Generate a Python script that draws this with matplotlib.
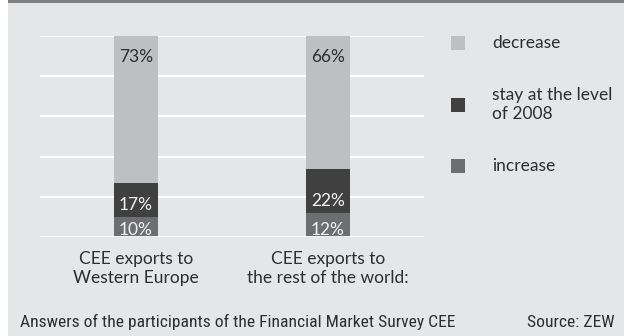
import matplotlib
matplotlib.use("Agg")
import matplotlib.pyplot as plt
from matplotlib.patches import Rectangle
from matplotlib import font_manager

# ---- data ----
categories = ["CEE exports to\nWestern Europe", "CEE exports to\nthe rest of the world:"]
increase = [10, 12]
stay = [17, 22]
decrease = [73, 66]
series_names = ["increase", "stay at the level\nof 2008", "decrease"]
footer_left = "Answers of the participants of the Financial Market Survey CEE"
footer_right = "Source: ZEW"

# ---- style ----
BG = "#e5e6e8"
C_INC = "#6d6e71"
C_STAY = "#404040"
C_DEC = "#bebfc3"
TXT = "#2e2e2e"
W, H = 624, 336

avail = {f.name for f in font_manager.fontManager.ttflist}
main_font = "Lato" if "Lato" in avail else "DejaVu Sans"
narrow = next((f for f in ["Liberation Sans Narrow", "Roboto Condensed", "Open Sans Condensed", "Roboto"] if f in avail), main_font)

fig = plt.figure(figsize=(W / 100, H / 100), dpi=100, facecolor=BG)

def fx(px):
    return px / W

def fy(py):
    return 1 - py / H

# top dark band and left white strip
fig.add_artist(Rectangle((fx(8), fy(3)), 1 - fx(8), 3 / H, transform=fig.transFigure,
                         facecolor="#808080", edgecolor="none"))
fig.add_artist(Rectangle((0, 0), fx(8), 1, transform=fig.transFigure,
                         facecolor="white", edgecolor="none"))

ax = fig.add_axes([fx(40), fy(237.3), fx(424) - fx(40), fy(35.8) - fy(237.3)])
ax.set_facecolor(BG)
ax.set_xlim(-0.5, 1.5)
ax.set_ylim(0, 100)
for s in ax.spines.values():
    s.set_visible(False)
ax.set_yticks([0, 20, 40, 60, 80, 100])
ax.yaxis.grid(True, color="white", linewidth=1.3)
ax.set_axisbelow(True)
ax.tick_params(left=False, bottom=False, labelleft=False, labelbottom=False)

x = list(range(len(categories)))
bw = 0.23
b1 = ax.bar(x, increase, bw, color=C_INC, zorder=2)
b2 = ax.bar(x, stay, bw, bottom=increase, color=C_STAY, zorder=2)
bottoms3 = [a + b for a, b in zip(increase, stay)]
b3 = ax.bar(x, decrease, bw, bottom=bottoms3, color=C_DEC, zorder=2)
ax.axhline(0, color="white", linewidth=1.3, zorder=5)

fs = 12.5
for i in x:
    ax.annotate(f"{decrease[i]}%", xy=(i, bottoms3[i] + decrease[i]), xytext=(0, -15.5),
                textcoords="offset points", ha="center", va="center", fontsize=fs,
                family=main_font, color=TXT, zorder=4)
    ax.annotate(f"{stay[i]}%", xy=(i, increase[i]), xytext=(0, 9),
                textcoords="offset points", ha="center", va="center", fontsize=fs,
                family=main_font, color="#f2f2f2", zorder=4)
    ax.annotate(f"{increase[i]}%", xy=(i, 0), xytext=(0, 5.5),
                textcoords="offset points", ha="center", va="center", fontsize=fs,
                family=main_font, color="#f2f2f2", zorder=4)
    ax.annotate(categories[i], xy=(i, 0), xycoords=("data", "axes fraction"),
                xytext=(0, -10), textcoords="offset points", ha="center", va="top",
                fontsize=fs, family=main_font, color=TXT, linespacing=1.2,
                annotation_clip=False)

# legend (manual)
leg_colors = [C_DEC, C_STAY, C_INC]
leg_labels = [series_names[2], series_names[1], series_names[0]]
leg_y = [43, 104.7, 166.3]
for c, lab, yc in zip(leg_colors, leg_labels, leg_y):
    fig.add_artist(Rectangle((fx(451), fy(yc + 7)), 14 / W, 14 / H, transform=fig.transFigure,
                             facecolor=c, edgecolor="none"))
    fig.text(fx(492), fy(yc), lab, ha="left", va="center", fontsize=fs, family=main_font,
             color=TXT, linespacing=1.2)

# footer: scale font so the left note spans its reference width (~432 px)
tl = fig.text(fx(20), fy(326.7), footer_left, ha="left", va="baseline", fontsize=11,
              family=narrow, color=TXT)
tr = fig.text(fx(615), fy(326.7), footer_right, ha="right", va="baseline", fontsize=11,
              family=narrow, color=TXT)
renderer = fig.canvas.get_renderer()
wpx = tl.get_window_extent(renderer).width
if wpx > 0:
    new_fs = max(9, min(13, 11 * 432 / wpx))
    tl.set_fontsize(new_fs)
    tr.set_fontsize(new_fs)

fig.savefig("out.png", dpi=100, facecolor=BG)
